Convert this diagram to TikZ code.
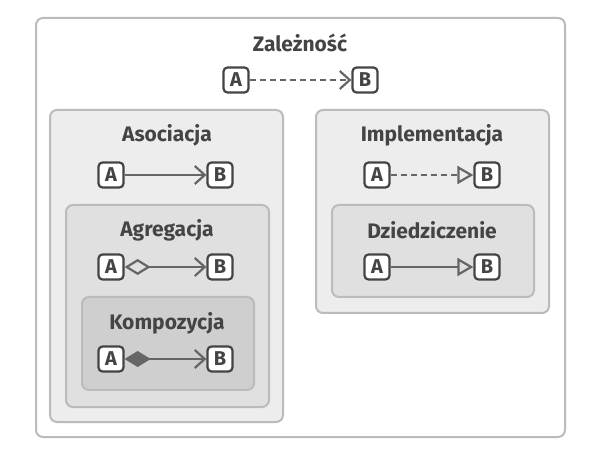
\documentclass[tikz,border=0pt]{standalone}
\usepackage{fontspec}
\setmainfont{Fira Sans}
\usetikzlibrary{arrows.meta}
\definecolor{ink}{HTML}{444444}
\definecolor{edge}{HTML}{666666}
\definecolor{frame}{HTML}{BBBBBB}
\tikzset{
  group/.style={draw=frame,line width=2pt,rounded corners=7pt},
  title/.style={font=\bfseries\fontsize{21}{21}\selectfont,text=ink},
  cls/.style={draw=ink,fill=white,line width=2.2pt,rounded corners=4pt,minimum width=25pt,minimum height=25pt,inner sep=0pt,font=\bfseries\fontsize{20}{20}\selectfont,text=ink},
  link/.style={draw=edge,line width=2.2pt},
  assoc/.style={link,-{Straight Barb[length=10pt,width=18pt,line width=2.2pt]}},
  impl/.style={link,dash pattern=on 6pt off 4pt,-{Triangle[open,length=16pt,width=18pt,line width=2.2pt]}},
  inher/.style={link,-{Triangle[open,length=16pt,width=18pt,line width=2.2pt]}}
}
\begin{document}
\begin{tikzpicture}[x=1pt,y=-1pt]
\useasboundingbox (0,0) rectangle (600,462);
% frames
\draw[group,fill=white] (36,18) rectangle (565,437);
\draw[group,fill=black!7] (50,110) rectangle (283,422);
\draw[group,fill=black!12] (66,205) rectangle (269,407);
\draw[group,fill=black!19] (82,297) rectangle (254,390);
\draw[group,fill=black!7] (316,110) rectangle (549,313);
\draw[group,fill=black!12] (332,205) rectangle (534,297);
% titles
\node[title] (tdep) at (300,43) {Zależność};
\node[title] (tass) at (167,135) {Asociacja};
\node[title] (tagg) at (167,230) {Agregacja};
\node[title] (tcom) at (167,323) {Kompozycja};
\node[title] (timp) at (432,135) {Implementacja};
\node[title] (tinh) at (432,230) {Dziedziczenie};
% classes
\node[cls] (depA) at (236,80) {A};
\node[cls] (depB) at (365,80) {B};
\node[cls] (assA) at (111,175) {A};
\node[cls] (assB) at (220,175) {B};
\node[cls] (aggA) at (111,267) {A};
\node[cls] (aggB) at (220,267) {B};
\node[cls] (comA) at (111,359) {A};
\node[cls] (comB) at (220,359) {B};
\node[cls] (impA) at (377,175) {A};
\node[cls] (impB) at (487,175) {B};
\node[cls] (inhA) at (377,267) {A};
\node[cls] (inhB) at (487,267) {B};
% connectors
\draw[assoc,dash pattern=on 6pt off 4pt] (depA) -- (depB);
\draw[assoc] (assA) -- (assB);
\draw[assoc,{Diamond[open,length=26pt,width=16pt,line width=2.2pt]}-{Straight Barb[length=10pt,width=18pt,line width=2.2pt]}] (aggA) -- (aggB);
\draw[assoc,{Diamond[fill=edge,length=26pt,width=16pt,line width=2.2pt]}-{Straight Barb[length=10pt,width=18pt,line width=2.2pt]}] (comA) -- (comB);
\draw[impl] (impA) -- (impB);
\draw[inher] (inhA) -- (inhB);
\end{tikzpicture}
\end{document}
